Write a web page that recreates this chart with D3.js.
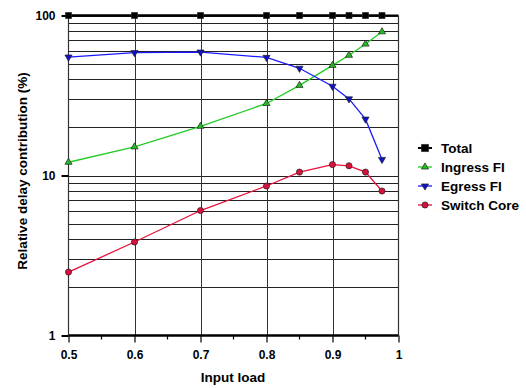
<!DOCTYPE html>
<html>
<head>
<meta charset="utf-8">
<script src="https://cdn.jsdelivr.net/npm/d3@7"></script>
<style>
  body { margin: 0; background: #fff; }
  text { font-family: Arial, "Liberation Sans", sans-serif; font-weight: bold; }
</style>
</head>
<body>
<svg id="svg" width="526" height="388"></svg>
<script>
// data
const load = [0.5, 0.6, 0.7, 0.8, 0.85, 0.9, 0.925, 0.95, 0.975];
const total = [100, 100, 100, 100, 100, 100, 100, 100, 100];
const ingress = [12.1, 15.1, 20.3, 28.2, 36.6, 48.8, 56.4, 66.3, 79.1];
const egress = [55, 58.6, 59.1, 54.7, 46.8, 36.1, 30.1, 22.5, 12.6];
const switchCore = [2.49, 3.84, 6.04, 8.6, 10.5, 11.7, 11.5, 10.5, 8.0];
const xTicks = [0.5, 0.6, 0.7, 0.8, 0.9, 1];
const xTickLabels = ['0.5', '0.6', '0.7', '0.8', '0.9', '1'];
const yTicks = [1, 10, 100];
const seriesNames = ['Total', 'Ingress FI', 'Egress FI', 'Switch Core'];

const svg = d3.select('#svg');
const x = d3.scaleLinear().domain([0.5, 1]).range([68.5, 398.5]);
const y = d3.scaleLog().domain([1, 100]).range([335.5, 15.5]);

// horizontal grid at every log minor tick
const yGrid = y.ticks().filter(v => v > 1 && v <= 100);
svg.append('g').selectAll('line').data(yGrid).enter().append('line')
  .attr('x1', x(0.5)).attr('x2', x(1))
  .attr('y1', d => Math.round(y(d)) + 0.5).attr('y2', d => Math.round(y(d)) + 0.5)
  .attr('stroke', '#222').attr('stroke-width', 1);

// vertical grid
svg.append('g').selectAll('line').data(xTicks.slice(1, -1)).enter().append('line')
  .attr('x1', d => Math.round(x(d)) + 0.5).attr('x2', d => Math.round(x(d)) + 0.5)
  .attr('y1', y(100)).attr('y2', y(1))
  .attr('stroke', '#333').attr('stroke-width', 1);

// frame
svg.append('line').attr('x1', x(0.5)).attr('x2', x(1)).attr('y1', y(100)).attr('y2', y(100))
  .attr('stroke', '#000').attr('stroke-width', 2);
svg.append('line').attr('x1', x(1)).attr('x2', x(1)).attr('y1', y(100)).attr('y2', y(1))
  .attr('stroke', '#333').attr('stroke-width', 1.2);

// x axis
const xAxis = d3.axisBottom(x).tickValues(xTicks).tickFormat((d, i) => xTickLabels[i]).tickSize(7).tickPadding(8);
const gx = svg.append('g').attr('transform', `translate(0,${y(1)})`).call(xAxis);
gx.select('.domain').attr('stroke', '#000').attr('stroke-width', 2.5).attr('d', `M${x(0.5)},0H${x(1)}`);
gx.selectAll('.tick line').attr('stroke', '#000').attr('stroke-width', 1.2);
gx.selectAll('text').attr('font-size', 12).attr('fill', '#000').style('font-weight', 'bold');
const minorX = d3.range(0.55, 1, 0.1);
gx.append('g').selectAll('line').data(minorX).enter().append('line')
  .attr('x1', d => x(d)).attr('x2', d => x(d)).attr('y1', 0).attr('y2', 4)
  .attr('stroke', '#000').attr('stroke-width', 1.2);

// y axis
const yAxis = d3.axisLeft(y).tickValues(yTicks).tickFormat(d3.format('d')).tickSize(7).tickPadding(6);
const gy = svg.append('g').attr('transform', `translate(${x(0.5)},0)`).call(yAxis);
gy.select('.domain').attr('stroke', '#333').attr('stroke-width', 1.2).attr('d', `M0,${y(1)}V${y(100)}`);
gy.selectAll('.tick line').attr('stroke', '#000').attr('stroke-width', 2);
gy.selectAll('text').attr('font-size', 12).attr('fill', '#000').style('font-weight', 'bold');

// axis titles
svg.append('text').attr('x', 233).attr('y', 382).attr('text-anchor', 'middle')
  .attr('font-size', 13.5).text('Input load');
svg.append('text').attr('transform', 'translate(27,171) rotate(-90)')
  .attr('text-anchor', 'middle').attr('font-size', 13.5).text('Relative delay contribution (%)');

// series
const series = [
  { name: seriesNames[0], values: total, color: '#000', fill: '#000', shape: d3.symbolSquare, size: 36 },
  { name: seriesNames[1], values: ingress, color: '#22cc22', fill: '#22bb22', shape: d3.symbolTriangle, size: 22 },
  { name: seriesNames[2], values: egress, color: '#1a1aff', fill: '#1010cc', shape: d3.symbolTriangle, size: 22, flip: true },
  { name: seriesNames[3], values: switchCore, color: '#e8103c', fill: '#d8103c', shape: d3.symbolCircle, size: 30 }
];

const line = d3.line().x(d => x(d[0])).y(d => y(d[1]));
series.forEach(s => {
  const pts = load.map((l, i) => [l, s.values[i]]);
  const g = svg.append('g');
  g.append('path').attr('d', line(pts)).attr('fill', 'none')
    .attr('stroke', s.color).attr('stroke-width', s.name === 'Total' ? 2 : 1.3);
  g.selectAll('path.m').data(pts).enter().append('path').attr('class', 'm')
    .attr('d', d3.symbol().type(s.shape).size(s.size))
    .attr('transform', d => `translate(${x(d[0])},${y(d[1])})${s.flip ? ' rotate(180)' : ''}`)
    .attr('fill', s.fill).attr('stroke', '#222').attr('stroke-width', 0.7);
});

// legend
const leg = svg.append('g').attr('transform', 'translate(425,148)');
series.forEach((s, i) => {
  const r = leg.append('g').attr('transform', `translate(0,${i * 19})`);
  r.append('line').attr('x1', -7).attr('x2', 7).attr('stroke', s.color).attr('stroke-width', s.name === 'Total' ? 2 : 1.3);
  r.append('path').attr('d', d3.symbol().type(s.shape).size(s.name === 'Total' ? 50 : s.size))
    .attr('transform', s.flip ? 'rotate(180)' : null)
    .attr('fill', s.fill).attr('stroke', '#222').attr('stroke-width', 0.7);
  r.append('text').attr('x', 16).attr('y', 5).attr('font-size', 13.5).text(s.name);
});
</script>
</body>
</html>
